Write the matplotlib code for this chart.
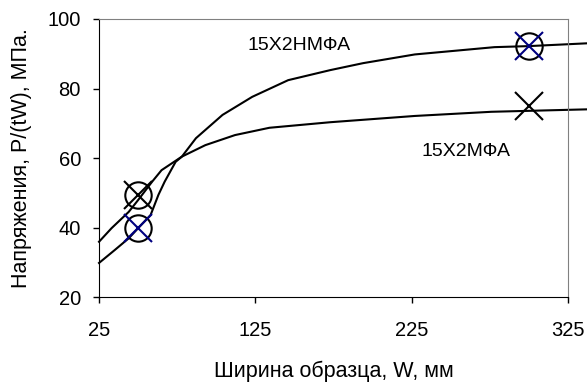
import numpy as np
from matplotlib import pyplot as plt

plt.rcParams['font.family'] = ['Liberation Sans', 'DejaVu Sans']

# fitted curves
w_nmfa = [25, 35, 44, 50, 58, 63, 67, 74, 78, 87, 104, 123, 146, 173, 194, 227, 278, 300, 337]
s_nmfa = [29.8, 33.5, 36.9, 39.8, 43.6, 49.4, 53.2, 58.9, 60.4, 65.7, 72.4, 77.6, 82.4,
          85.3, 87.3, 89.8, 91.9, 92.2, 93.0]

w_mfa = [25, 33, 44, 50, 59, 65, 78, 93, 112, 134, 173, 227, 276, 337]
s_mfa = [35.9, 39.8, 44.5, 47.9, 53.2, 56.5, 60.4, 63.7, 66.6, 68.7, 70.3, 72.1, 73.3, 74.0]

# measured points
circ_w = [50, 50, 300]
circ_s = [49.4, 39.8, 92.2]
xblack_w = [50, 300]
xblack_s = [49.4, 75.1]
xblue_w = [50, 300]
xblue_s = [39.8, 92.2]

xticks = [25, 125, 225, 325]
yticks = [20, 40, 60, 80, 100]

fig = plt.figure(figsize=(5.87, 3.83), dpi=100)
ax = fig.add_axes([0.1687, 0.2245, 0.7989, 0.7259])

ax.plot(w_nmfa, s_nmfa, color='black', lw=1.5, clip_on=False)
ax.plot(w_mfa, s_mfa, color='black', lw=1.5, clip_on=False)

ax.plot(circ_w, circ_s, 'o', ms=19, mfc='none', mec='black', mew=1.5, clip_on=False)
ax.plot(xblack_w, xblack_s, 'x', ms=20, mec='black', mew=1.5, clip_on=False)
ax.plot(xblue_w, xblue_s, 'x', ms=20, mec='#000080', mew=1.5, clip_on=False)

ax.text(120, 92.5, '15Х2НМФА', fontsize=14, va='center', ha='left')
ax.text(231, 61.8, '15Х2МФА', fontsize=14, va='center', ha='left')

ax.set_xlim(25, 325)
ax.set_ylim(20, 100)
ax.set_xticks(xticks)
ax.set_yticks(yticks)
ax.tick_params(labelsize=14.5, direction='out', length=4, width=1)
ax.tick_params(axis='x', pad=13)
ax.tick_params(axis='y', pad=9)

for side in ['top', 'right']:
    ax.spines[side].set_color('#808080')
for side in ['left', 'bottom']:
    ax.spines[side].set_color('black')

ax.set_xlabel('Ширина образца, W, мм', fontsize=15.5, labelpad=15)
ax.set_ylabel('Напряжения, P/(tW), МПа.', fontsize=15.5, labelpad=11)

fig.savefig('out.png', dpi=100)
